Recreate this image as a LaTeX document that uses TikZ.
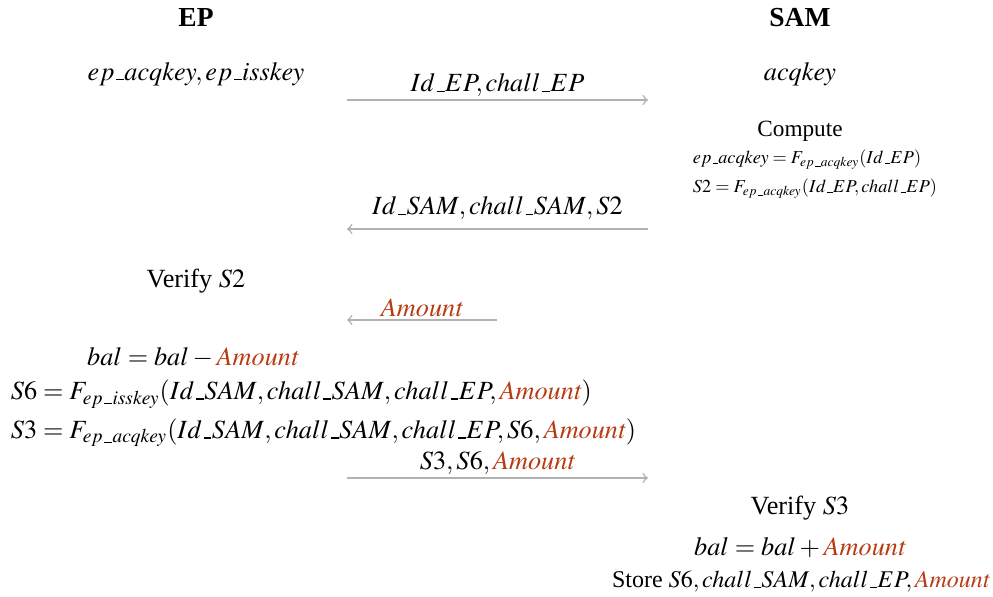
\documentclass[tikz,border=0pt]{standalone}
\usepackage{mathptmx}
\usepackage[no-math]{fontspec}
\setmainfont{Liberation Serif}
\usepackage{xcolor}

\definecolor{amtred}{RGB}{184,58,18}
\definecolor{msggray}{RGB}{178,178,178}
\newcommand{\amt}{\textcolor{amtred}{\mathit{Amount}}}
\newcommand{\us}{\mbox{\kern.06em\vbox{\hrule width.3em height.5pt}\kern.02em}}

\begin{document}
\begin{tikzpicture}[x=0.4pt, y=-0.4pt,
  font=\fontsize{10.5}{12.6}\selectfont,
  msg/.style={draw=msggray, line width=0.6pt},
  lbl/.style={above, yshift=-2.4pt},
  party/.style={font=\fontsize{11}{13}\selectfont\bfseries},
  small/.style={font=\fontsize{7.3}{8.5}\selectfont}]
 \useasboundingbox (0,0) rectangle (993,597);

 \node[party] (ep)  at (196, 18) {EP};
 \node[party] (sam) at (800, 18) {SAM};

 \node (epkeys) at (196, 74) {$ep\us acqkey, ep\us isskey$};
 \node (samkey) at (800, 74) {$acqkey$};

 \coordinate (m1s) at (347, 100);
 \coordinate (m1e) at (648, 100);
 \coordinate (m2s) at (648, 229);
 \coordinate (m2e) at (347, 229);
 \coordinate (m3s) at (497, 320);
 \coordinate (m3e) at (347, 320);
 \coordinate (m4s) at (347, 478);
 \coordinate (m4e) at (648, 478);

 \draw[->, msg] (m1s) -- node[lbl] {$Id\us EP, chall\us EP$} (m1e);

 \node[font=\fontsize{9.3}{11}\selectfont] (comp) at (800, 131) {Compute};
 \node[small, anchor=west] (f1) at (684, 160) {$ep\us acqkey = F_{ep\us acqkey}(Id\us EP)$};
 \node[small, anchor=west] (f2) at (684, 189) {$S2 = F_{ep\us acqkey}(Id\us EP, chall\us EP)$};

 \draw[->, msg] (m2s) -- node[above] {$Id\us SAM, chall\us SAM, S2$} (m2e);

 \node (ver2) at (196, 281) {Verify $S2$};

 \draw[->, msg] (m3s) -- node[lbl] {$\amt$} (m3e);

 \node (dec) at (193, 358) {$bal = bal - \amt$};
 \node[anchor=west] (s6) at (2, 394) {$S6 = F_{ep\us isskey}(Id\us SAM, chall\us SAM, chall\us EP, \amt)$};
 \node[anchor=west] (s3) at (2, 433) {$S3 = F_{ep\us acqkey}(Id\us SAM, chall\us SAM, chall\us EP, S6, \amt)$};

 \draw[->, msg] (m4s) -- node[lbl] {$S3, S6, \amt$} (m4e);

 \node (ver3)  at (800, 508) {Verify $S3$};
 \node (inc)   at (800, 548) {$bal = bal + \amt$};
 \node[font=\fontsize{9.6}{11.5}\selectfont] (store) at (801, 582) {Store $S6, chall\us SAM, chall\us EP, \amt$};
\end{tikzpicture}
\end{document}
